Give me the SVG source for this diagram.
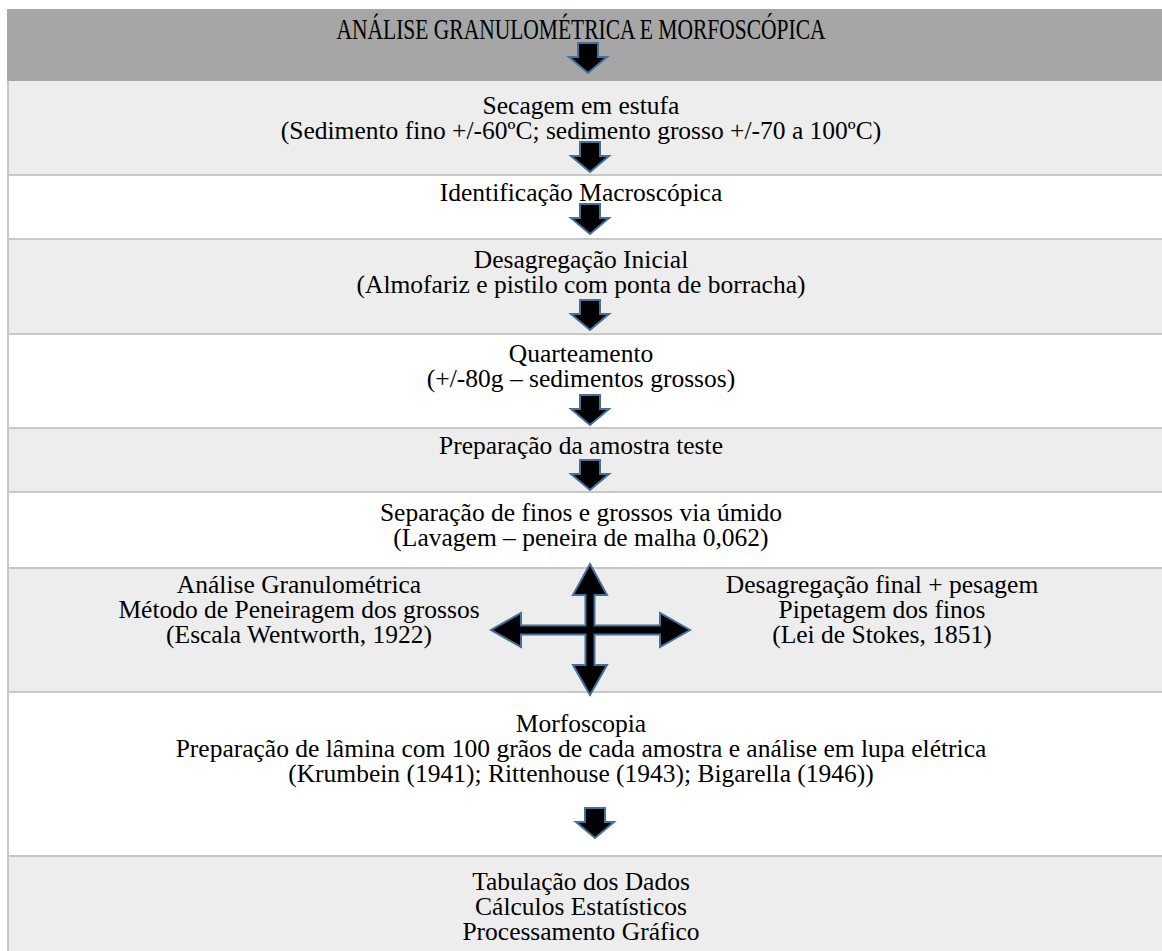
<svg xmlns="http://www.w3.org/2000/svg" width="1162" height="951" viewBox="0 0 1162 951">
<style>
.t{font-family:"Liberation Serif","Times New Roman",serif;font-size:25.5px;fill:#000;text-anchor:middle}
.h{font-size:29px}
.g{fill:#ededed}
.w{fill:#ffffff}
.sep{fill:#c8c8c8}
.arr{fill:#000;stroke:#41719c;stroke-width:2;stroke-linejoin:miter}
</style>
<defs>
<path id="down" d="M-10,0 H10 V14 H19 L0,30 L-19,14 H-10 Z"/>
</defs>
<rect x="0" y="0" width="1162" height="951" fill="#fff"/>
<g id="header">
<rect x="7" y="9" width="1155" height="72" fill="#a6a6a6"/>
<text class="t h" x="581" y="39" textLength="489" lengthAdjust="spacingAndGlyphs">ANÁLISE GRANULOMÉTRICA E MORFOSCÓPICA</text>
</g>
<g id="secagem">
<rect class="g" x="9" y="81" width="1153" height="93"/>
<text class="t" x="581" y="114">Secagem em estufa</text>
<text class="t" x="581" y="139">(Sedimento fino +/-60ºC; sedimento grosso +/-70 a 100ºC)</text>
</g>
<g id="identificacao">
<rect class="w" x="9" y="176" width="1153" height="62"/>
<text class="t" x="581" y="201">Identificação Macroscópica</text>
</g>
<g id="desagregacao">
<rect class="g" x="9" y="240" width="1153" height="93"/>
<text class="t" x="581" y="268">Desagregação Inicial</text>
<text class="t" x="581" y="293">(Almofariz e pistilo com ponta de borracha)</text>
</g>
<g id="quarteamento">
<rect class="w" x="9" y="335" width="1153" height="92"/>
<text class="t" x="581" y="362">Quarteamento</text>
<text class="t" x="581" y="387">(+/-80g – sedimentos grossos)</text>
</g>
<g id="preparacao">
<rect class="g" x="9" y="429" width="1153" height="62"/>
<text class="t" x="581" y="454">Preparação da amostra teste</text>
</g>
<g id="separacao">
<rect class="w" x="9" y="493" width="1153" height="74"/>
<text class="t" x="581" y="521">Separação de finos e grossos via úmido</text>
<text class="t" x="581" y="546">(Lavagem – peneira de malha 0,062)</text>
</g>
<g id="analise-row">
<rect class="g" x="9" y="569" width="1153" height="122"/>
</g>
<g id="analise-granulometrica">
<text class="t" x="299" y="593">Análise Granulométrica</text>
<text class="t" x="299" y="618">Método de Peneiragem dos grossos</text>
<text class="t" x="299" y="643">(Escala Wentworth, 1922)</text>
</g>
<g id="desagregacao-final">
<text class="t" x="882" y="593">Desagregação final + pesagem</text>
<text class="t" x="882" y="618">Pipetagem dos finos</text>
<text class="t" x="882" y="643">(Lei de Stokes, 1851)</text>
</g>
<g id="morfoscopia">
<rect class="w" x="9" y="693" width="1153" height="162"/>
<text class="t" x="581" y="732">Morfoscopia</text>
<text class="t" x="581" y="757">Preparação de lâmina com 100 grãos de cada amostra e análise em lupa elétrica</text>
<text class="t" x="581" y="782">(Krumbein (1941); Rittenhouse (1943); Bigarella (1946))</text>
</g>
<g id="tabulacao">
<rect class="g" x="9" y="857" width="1153" height="94"/>
<text class="t" x="581" y="890">Tabulação dos Dados</text>
<text class="t" x="581" y="915">Cálculos Estatísticos</text>
<text class="t" x="581" y="940">Processamento Gráfico</text>
</g>
<g id="grid">
<rect class="sep" x="7" y="81" width="2" height="870"/>
<rect class="sep" x="9" y="174" width="1153" height="2"/>
<rect class="sep" x="9" y="238" width="1153" height="2"/>
<rect class="sep" x="9" y="333" width="1153" height="2"/>
<rect class="sep" x="9" y="427" width="1153" height="2"/>
<rect class="sep" x="9" y="491" width="1153" height="2"/>
<rect class="sep" x="9" y="567" width="1153" height="2"/>
<rect class="sep" x="9" y="691" width="1153" height="2"/>
<rect class="sep" x="9" y="855" width="1153" height="2"/>
</g>
<g id="connectors">
<use href="#down" class="arr" transform="translate(588,43)"/>
<use href="#down" class="arr" transform="translate(590,142)"/>
<use href="#down" class="arr" transform="translate(590,204)"/>
<use href="#down" class="arr" transform="translate(590,300)"/>
<use href="#down" class="arr" transform="translate(590,395)"/>
<use href="#down" class="arr" transform="translate(590,460)"/>
<polygon class="arr" points="590,564 607,595 594.5,595 594.5,625.5 660,625.5 660,613 690,630 660,647 660,634.5 594.5,634.5 594.5,665 607,665 590,695 573,665 585.5,665 585.5,634.5 521,634.5 521,647 491,630 521,613 521,625.5 585.5,625.5 585.5,595 573,595"/>
<use href="#down" class="arr" transform="translate(595,808)"/>
</g>
</svg>
